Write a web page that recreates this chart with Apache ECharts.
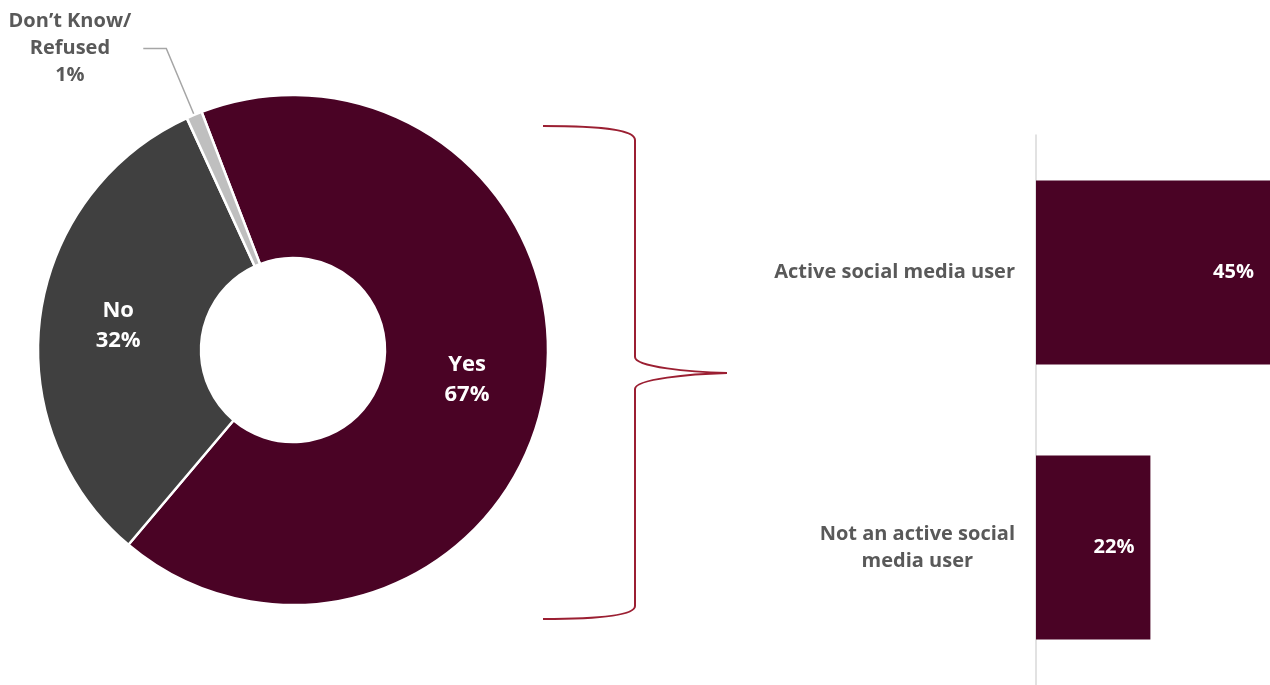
<!DOCTYPE html>
<html>
<head>
<meta charset="utf-8">
<script src="https://cdn.jsdelivr.net/npm/echarts@6/dist/echarts.min.js"></script>
<style>
  html, body { margin: 0; padding: 0; background: #ffffff; }
  #chart { width: 1270px; height: 685px; }
</style>
</head>
<body>
<div id="chart"></div>
<script>
// Share of respondents (donut) and breakdown of the "Yes" group (bars)
const pieCategories = ['Yes', 'No', 'Don\u2019t Know/\nRefused'];
const pieValues = [67, 32, 1];
const pieColors = ['#4a0325', '#404040', '#bfbfbf'];

const barCategories = ['Active social media user', 'Not an active social\nmedia user'];
const barValues = [45, 22];

const FONT = '"Open Sans", "Noto Sans", sans-serif';
const MAROON = '#4a0325';
const BRACE = '#9b1f32';
const GREY_TEXT = '#595959';

const pieData = pieCategories.map((name, i) => {
  const item = { name: name, value: pieValues[i], itemStyle: { color: pieColors[i] } };
  if (i === 2) {
    item.label = {
      position: 'outside',
      color: GREY_TEXT,
      distanceToLabelLine: 12,
      formatter: p => p.name.split('\n').concat([p.value + '%'])
        .map(s => '{c|' + s + '}').join('\n'),
      rich: {
        c: { align: 'center', color: GREY_TEXT, fontFamily: FONT, fontWeight: 'bold', fontSize: 20, lineHeight: 27 }
      }
    };
    item.labelLine = { show: true, length: 72, length2: 23, lineStyle: { color: '#a6a6a6', width: 1.5 } };
  }
  return item;
});

// curly brace pieces linking the "Yes" slice to its breakdown
const braceStyle = { fill: null, stroke: BRACE, lineWidth: 2 };
function curve(x1, y1, cx1, cy1, cx2, cy2, x2, y2) {
  return { type: 'bezierCurve', silent: true, z: 10,
    shape: { x1: x1, y1: y1, cpx1: cx1, cpy1: cy1, cpx2: cx2, cpy2: cy2, x2: x2, y2: y2 },
    style: braceStyle };
}
function seg(x1, y1, x2, y2) {
  return { type: 'line', silent: true, z: 10, shape: { x1: x1, y1: y1, x2: x2, y2: y2 }, style: braceStyle };
}

const chart = echarts.init(document.getElementById('chart'), null, { renderer: 'canvas' });

chart.setOption({
  backgroundColor: '#ffffff',
  animation: false,
  grid: { left: 1036, right: 0, top: 135, bottom: 0, containLabel: false },
  xAxis: { type: 'value', min: 0, max: 45, show: false },
  yAxis: {
    type: 'category',
    inverse: true,
    data: barCategories,
    axisLine: { show: true, lineStyle: { color: '#d9d9d9', width: 1.5 } },
    axisTick: { show: false },
    splitLine: { show: false },
    axisLabel: {
      margin: 21,
      formatter: v => v.split('\n').map(s => '{t|' + s + '}').join('\n'),
      rich: {
        t: { align: 'center', color: GREY_TEXT, fontFamily: FONT, fontWeight: 'bold', fontSize: 20, lineHeight: 27 }
      }
    }
  },
  series: [
    {
      type: 'pie',
      center: [293, 350],
      radius: [92, 255],
      startAngle: 111,
      clockwise: true,
      avoidLabelOverlap: false,
      itemStyle: { borderColor: '#ffffff', borderWidth: 2.5 },
      label: {
        show: true,
        position: 'inside',
        color: '#ffffff',
        fontFamily: FONT,
        fontWeight: 'bold',
        fontSize: 22,
        lineHeight: 30,
        formatter: '{b}\n{c}%'
      },
      labelLine: { show: false },
      emphasis: { disabled: true },
      data: pieData
    },
    {
      type: 'bar',
      data: barValues,
      barWidth: 184,
      itemStyle: { color: MAROON },
      label: {
        show: true,
        position: 'insideRight',
        distance: 16,
        color: '#ffffff',
        fontFamily: FONT,
        fontWeight: 'bold',
        fontSize: 20,
        formatter: '{c}%'
      },
      emphasis: { disabled: true }
    }
  ],
  graphic: [
    curve(543, 126, 610, 126, 635, 131, 635, 140),
    seg(635, 140, 635, 357),
    curve(635, 357, 635, 367, 690, 372, 727, 373),
    curve(727, 373, 690, 374, 635, 379, 635, 389),
    seg(635, 389, 635, 606),
    curve(635, 606, 635, 614, 610, 619, 543, 619)
  ]
});
</script>
</body>
</html>
